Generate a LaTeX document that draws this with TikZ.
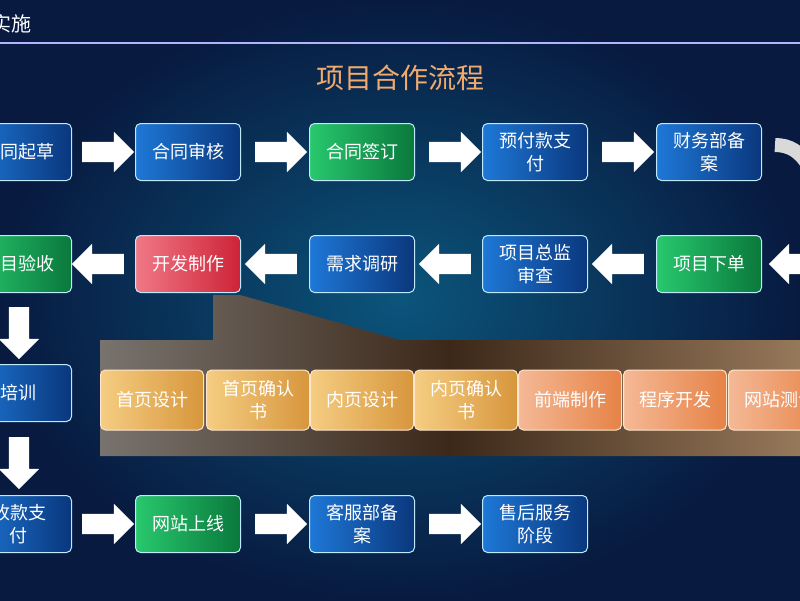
\documentclass[tikz,border=0pt]{standalone}
\usepackage{fontspec}
\newfontfamily\cjk{Noto Sans CJK SC}
\usetikzlibrary{positioning}
\usetikzlibrary{shapes.arrows}
\definecolor{NavyBg}{RGB}{14,42,90}
\definecolor{NavyDark}{RGB}{8,26,64}
\definecolor{BoxBlueL}{RGB}{30,120,215}
\definecolor{BoxBlueR}{RGB}{10,55,125}
\definecolor{BoxGreenL}{RGB}{40,200,110}
\definecolor{BoxGreenR}{RGB}{10,120,60}
\definecolor{BoxRedL}{RGB}{240,120,135}
\definecolor{BoxRedR}{RGB}{205,35,55}
\definecolor{GoldL}{RGB}{245,205,130}
\definecolor{GoldR}{RGB}{215,150,60}
\definecolor{PeachL}{RGB}{245,185,150}
\definecolor{PeachR}{RGB}{230,130,70}
\definecolor{TitleOrange}{RGB}{240,170,110}
\definecolor{BandGrey}{RGB}{120,115,110}
\definecolor{BandBrown}{RGB}{60,40,25}
\definecolor{BandTan}{RGB}{150,120,90}

\begin{document}
\begin{tikzpicture}[x=1pt, y=-1pt
      , stage/.style={rectangle, rounded corners=5pt, draw=white!75!cyan, line width=1pt,
          minimum width=105pt, minimum height=57pt, text width=90pt, align=center,
          text=white, font=\cjk\fontsize{18}{23}\selectfont}
      , s-blue/.style={stage, left color=BoxBlueL, right color=BoxBlueR}
      , s-green/.style={stage, left color=BoxGreenL, right color=BoxGreenR}
      , s-red/.style={stage, left color=BoxRedL, right color=BoxRedR}
      , task/.style={stage, draw=white!80!orange, minimum width=103pt, minimum height=60pt}
      , t-gold/.style={task, left color=GoldL, right color=GoldR}
      , t-peach/.style={task, left color=PeachL, right color=PeachR}
      , flow/.style={single arrow, fill=white, draw=none, minimum height=52pt,
          inner xsep=0pt, inner ysep=10pt, single arrow head extend=10pt}
      ]

      \clip (0,0) rectangle (800,600);
      \shade[inner color=NavyBg!80!cyan, outer color=NavyDark] (0,0) rectangle (800,600);

      % header
      \node[anchor=west, text=white, font=\cjk\fontsize{20}{24}\selectfont] (head) at (-12,24) {实施};
      \draw[white!70!blue, line width=1.2pt] (0,43) -- (800,43);
      \node[text=TitleOrange, font=\cjk\fontsize{28}{32}\selectfont] (title) at (400,78) {项目合作流程};

      % band behind the web tasks
      \shade[left color=BandGrey, right color=BandTan, middle color=BandBrown]
        (213,295) -- (240,295) -- (400,340) -- (800,340) -- (800,456) -- (100,456) -- (100,340) -- (213,340) -- cycle;

      % first row
      \node[s-blue]  (draft)   at (19,152)  {合同起草};
      \node[s-blue]  (review)  at (188,152) {合同审核};
      \node[s-green] (sign)    at (362,152) {合同签订};
      \node[s-blue]  (prepay)  at (535,152) {预付款支\\付};
      \node[s-blue]  (finance) at (709,152) {财务部备\\案};

      % second row
      \node[s-green] (accept)  at (19,264)  {项目验收};
      \node[s-red]   (develop) at (188,264) {开发制作};
      \node[s-blue]  (survey)  at (362,264) {需求调研};
      \node[s-blue]  (director) at (535,264) {项目总监\\审查};
      \node[s-green] (order)   at (709,264) {项目下单};

      % left column and last row
      \node[s-blue]  (train)   at (19,393)  {培训};
      \node[s-blue]  (payment) at (19,524)  {收款支\\付};
      \node[s-green] (online)  at (188,524) {网站上线};
      \node[s-blue]  (service) at (362,524) {客服部备\\案};
      \node[s-blue]  (after)   at (535,524) {售后服务\\阶段};

      % web tasks
      \node[t-gold]  (home)     at (152,400) {首页设计};
      \node[t-gold]  (homeok)   at (258,400) {首页确认\\书};
      \node[t-gold]  (inner)    at (362,400) {内页设计};
      \node[t-gold]  (innerok)  at (466,400) {内页确认\\书};
      \node[t-peach] (front)    at (570,400) {前端制作};
      \node[t-peach] (program)  at (675,400) {程序开发};
      \node[t-peach] (test)     at (780,400) {网站测试};

      % block arrows
      \foreach \ax/\ay/\rot [count=\i] in {103/152/0, 276/152/0, 450/152/0, 623/152/0,
          103/264/180, 276/264/180, 450/264/180, 623/264/180, 800/264/180,
          103/524/0, 276/524/0, 450/524/0, 19/328/-90, 19/458/-90}
        \node[flow, rotate=\rot] (flow\i) at (\ax,\ay) {};

      % bend towards the second row
      \draw[white!70!gray, line width=14pt] (775,145) .. controls (790,145) and (800,152) .. (808,165);
    \end{tikzpicture}
\end{document}
